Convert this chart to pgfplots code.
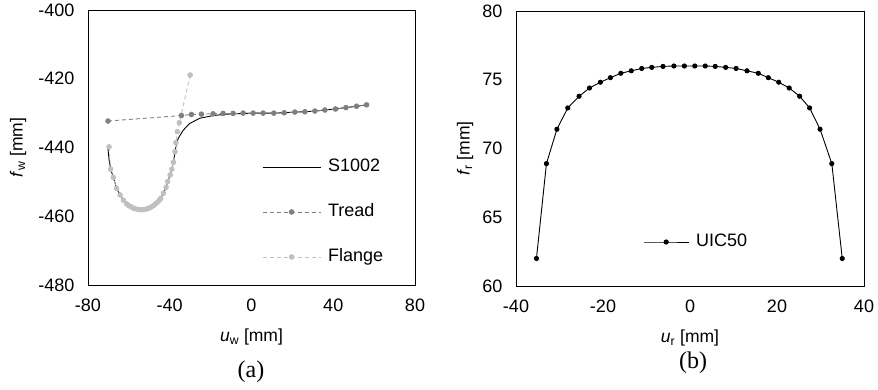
\documentclass[border=0pt]{standalone}
\usepackage{fontspec}
\setmainfont{Liberation Sans}
\newfontfamily\serifcap{Liberation Serif}
\usepackage{pgfplots}
\pgfplotsset{compat=1.18}
\definecolor{treadgray}{RGB}{128,128,128}
\definecolor{flangegray}{RGB}{192,192,192}
\pgfplotsset{
  excelax/.style={
    scale only axis,
    axis line style={black, line width=0.8pt},
    tick style={draw=none},
    /pgf/number format/assume math mode=true,
    ticklabel style={font=\fontsize{18}{20}\selectfont},
    xticklabel style={yshift=-10pt},
    yticklabel style={xshift=-10pt},
    label style={font=\fontsize{17.5}{20}\selectfont},
    legend style={draw=none, fill=none, inner sep=0pt,
      font=\fontsize{18}{20}\selectfont,
      nodes={inner sep=2pt, text height=13pt, text depth=4pt},
      row sep=24pt,
      /tikz/every odd column/.append style={column sep=5pt}},
    legend cell align=left,
  }
}
\begin{document}
\begin{tikzpicture}
\useasboundingbox (0pt,0pt) rectangle (878pt,390pt);
% ---------- (a) ----------
\begin{axis}[excelax,
  at={(88pt,105pt)}, anchor=south west,
  width=327pt, height=275pt,
  xmin=-80, xmax=80, ymin=-480, ymax=-400,
  xtick={-80,-40,0,40,80}, ytick={-480,-460,-440,-420,-400},
  xlabel={\textit{u}\textsubscript{w} [mm]},
  ylabel={\textit{f}\textsubscript{w} [mm]},
  xlabel style={at={(axis description cs:0.5,-0.189)}, anchor=center},
  ylabel style={at={(axis description cs:-0.214,0.5)}, anchor=center},
  legend image code/.code={\draw[mark repeat=2,mark phase=2,#1] plot coordinates {(0pt,0pt) (29pt,0pt) (58pt,0pt)};},
  legend style={at={(axis description cs:0.532,0.2655)}, anchor=west},
]
\addplot[black, line width=0.9pt, mark=none] coordinates {
(-70.2,-440.5) (-69.7,-443.5) (-68.9,-446.3) (-67.6,-448.7) (-66.0,-451.9)
(-64.3,-453.8) (-62.7,-455.3) (-61.1,-456.4) (-59.1,-457.2) (-57.0,-457.8)
(-54.5,-458.1) (-52.1,-458.0) (-50.0,-457.6) (-48.0,-456.9) (-46.0,-455.9)
(-44.4,-454.8) (-43.1,-453.3) (-41.8,-451.6) (-41.0,-449.9) (-39.8,-448.0)
(-39.0,-446.3) (-38.2,-444.3) (-37.4,-441.2) (-36.8,-439.0) (-35.8,-437.3)
(-34.5,-436.0) (-33.3,-434.9) (-30.2,-433.0) (-25.3,-431.5) (-18.6,-430.7)
(-12.1,-430.3) (-4.1,-430.1) (0.8,-430.0) (5.7,-430.0) (10.9,-430.0)
(16.0,-429.9) (21.2,-429.7) (26.1,-429.6) (31.0,-429.4) (35.9,-429.1)
(41.1,-428.8) (46.2,-428.4) (51.4,-428.0) (56.3,-427.6)
};
\addlegendentry{S1002}
\addplot[treadgray, line width=0.9pt, dash pattern=on 4pt off 3pt,
  mark=*, mark size=2.3pt, mark options={solid, fill=treadgray, draw=treadgray}] coordinates {
(-70.2,-432.3) (-34.3,-430.7) (-29.4,-430.4) (-24.5,-430.3) (-18.8,-430.2)
(-13.9,-430.1) (-9.0,-430.1) (-4.1,-430.0) (0.8,-430.0) (5.7,-430.0)
(10.9,-430.0) (16.0,-429.9) (21.2,-429.7) (26.1,-429.6) (31.0,-429.4)
(35.9,-429.1) (41.1,-428.8) (46.2,-428.4) (51.4,-428.0) (56.3,-427.6)
};
\addlegendentry{Tread}
\addplot[flangegray, line width=0.9pt, dash pattern=on 4pt off 3pt,
  mark=*, mark size=2.3pt, mark options={solid, fill=flangegray, draw=flangegray}] coordinates {
(-69.7,-439.8) (-68.9,-446.3) (-67.6,-448.7) (-66.0,-451.9) (-64.3,-453.8)
(-62.7,-455.3) (-61.1,-456.4) (-60.1,-456.9) (-59.1,-457.2) (-58.0,-457.6)
(-57.0,-457.8) (-55.7,-458.0) (-54.5,-458.1) (-53.3,-458.1) (-52.1,-458.0)
(-51.0,-457.8) (-50.0,-457.6) (-49.0,-457.3) (-48.0,-456.9) (-47.0,-456.4)
(-46.0,-455.9) (-45.2,-455.4) (-44.4,-454.8) (-43.1,-453.3) (-41.8,-451.6)
(-41.0,-449.9) (-39.8,-448.0) (-39.0,-446.3) (-38.2,-444.3) (-37.4,-441.2)
(-37.0,-438.6) (-36.3,-435.4) (-35.3,-432.8) (-30.0,-418.9)
};
\addlegendentry{Flange}
\end{axis}
\node[font=\serifcap\fontsize{24}{26}\selectfont] at (251pt,18pt) {(a)};
% ---------- (b) ----------
\begin{axis}[excelax,
  at={(516pt,104pt)}, anchor=south west,
  width=348pt, height=275pt,
  xmin=-40, xmax=40, ymin=60, ymax=80,
  xtick={-40,-20,0,20,40}, ytick={60,65,70,75,80},
  xlabel={\textit{u}\textsubscript{r} [mm]},
  ylabel={\textit{f}\textsubscript{r} [mm]},
  xlabel style={at={(axis description cs:0.5,-0.189)}, anchor=center},
  ylabel style={at={(axis description cs:-0.1466,0.5)}, anchor=center},
  legend image code/.code={\draw[mark repeat=2,mark phase=2,#1] plot coordinates {(0pt,0pt) (22.5pt,0pt) (45pt,0pt)};},
  legend style={at={(axis description cs:0.365,0.16)}, anchor=west},
]
\addplot[black, line width=0.9pt, mark=*, mark size=2.1pt, mark options={fill=black}] coordinates {
(-35.3,62.0) (-33.0,68.9) (-30.6,71.4) (-28.1,72.95) (-25.5,73.8)
(-23.1,74.4) (-20.6,74.82) (-18.3,75.15) (-15.9,75.47) (-13.5,75.65)
(-11.1,75.82) (-8.8,75.9) (-6.2,75.97) (-3.7,76.0) (-1.3,76.0)
(1.1,76.0) (3.5,76.0) (5.8,75.97) (8.2,75.9) (10.6,75.82)
(13.1,75.65) (15.7,75.47) (18.0,75.15) (20.4,74.82) (22.8,74.4)
(25.2,73.8) (27.5,72.95) (29.9,71.4) (32.6,68.9) (35.0,62.0)
};
\addlegendentry{UIC50}
\end{axis}
\node[font=\serifcap\fontsize{24}{26}\selectfont] at (693pt,27pt) {(b)};
\end{tikzpicture}
\end{document}
